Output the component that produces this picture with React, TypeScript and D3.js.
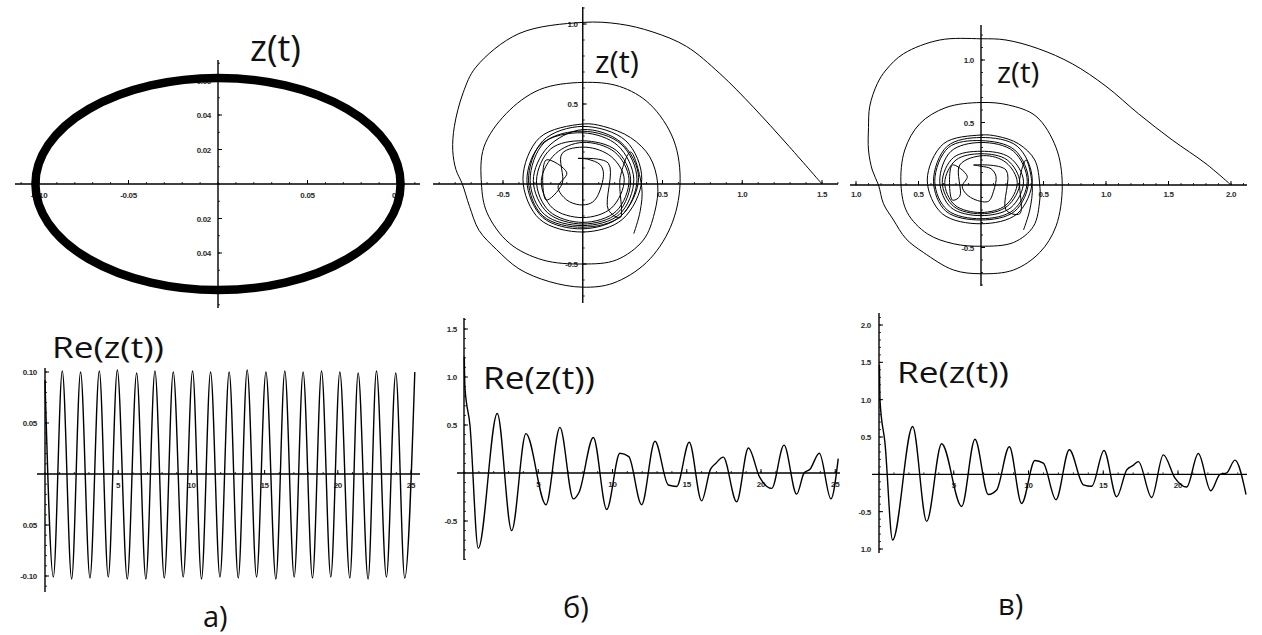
import * as d3 from "d3";

type Pt = [number, number];

// ---------- top row: z(t) phase portraits ----------
const ellipseRx = 0.102;
const ellipseRy = 0.0615;

const spiralB: Pt[] = [
  [1.5, 0], [1.28, 0.25], [1.07, 0.48], [0.86, 0.69], [0.65, 0.86], [0.44, 0.95], [0.23, 1.0], [0, 1.01],
  [-0.4, 0.94], [-0.67, 0.73], [-0.75, 0.57], [-0.805, 0.36], [-0.815, 0.21], [-0.795, 0.09], [-0.755, 0],
  [-0.71, -0.14], [-0.65, -0.29], [-0.54, -0.41], [-0.4, -0.53], [-0.21, -0.61], [0, -0.645], [0.19, -0.62],
  [0.4, -0.49], [0.55, -0.27], [0.61, 0], [0.57, 0.275],
  [0.42, 0.5], [0.23, 0.61], [0, 0.635], [-0.27, 0.59], [-0.48, 0.44], [-0.62, 0.23], [-0.635, 0],
  [-0.6, -0.18], [-0.46, -0.37], [-0.25, -0.475], [0, -0.5], [0.21, -0.475], [0.38, -0.35], [0.45, -0.18],
  [0.47, 0], [0.42, 0.17], [0.3, 0.29], [0.13, 0.36], [0, 0.375],
  [-0.27, 0.29], [-0.375, 0.03], [-0.27, -0.22], [0, -0.3], [0.25, -0.22], [0.37, 0.03], [0.27, 0.27], [0, 0.36],
  [-0.25, 0.27], [-0.34, 0.02], [-0.25, -0.2], [0, -0.27], [0.24, -0.2], [0.34, 0.03], [0.24, 0.25], [0, 0.33],
  [-0.24, 0.26], [-0.33, 0.02], [-0.24, -0.19], [0, -0.26], [0.23, -0.19], [0.32, 0.03], [0.22, 0.24], [0, 0.32],
  [-0.26, 0.25], [-0.35, 0.02], [-0.25, -0.21], [0, -0.28], [0.24, -0.2], [0.35, 0.04], [0.24, 0.26], [0, 0.34],
  [-0.22, 0.23], [-0.31, 0.02], [-0.22, -0.18], [0, -0.25], [0.22, -0.18], [0.3, 0.03], [0.21, 0.21], [0, 0.27],
  [-0.2, 0.22], [-0.29, 0.02], [-0.21, -0.17], [0, -0.24], [0.21, -0.17], [0.29, 0.03], [0.2, 0.2], [0, 0.26],
  [-0.17, 0.19], [-0.26, 0.02], [-0.19, -0.15], [0, -0.21], [0.18, -0.15], [0.26, 0.03], [0.18, 0.17], [0.02, 0.23],
  [-0.13, 0.19], [-0.13, 0.0], [-0.23, -0.1], [-0.23, 0.15], [-0.1, 0.07], [-0.155, -0.02], [-0.1, -0.1],
  [-0.02, -0.13], [0.05, -0.12], [0.09, -0.08], [0.13, 0.06], [0.11, 0.12], [0.03, 0.155], [-0.03, 0.16],
  [0.16, 0.13], [0.16, -0.16], [0.235, -0.21], [0.235, 0.04], [0.3, 0.2], [0.37, -0.02], [0.36, -0.17], [0.32, -0.31],
];

const spiralC: Pt[] = [
  [2.0, 0], [1.8, 0.17], [1.53, 0.36], [1.26, 0.57], [1.0, 0.79], [0.73, 0.97], [0.46, 1.09], [0.2, 1.16], [0, 1.17],
  [-0.33, 1.16], [-0.62, 1.05], [-0.76, 0.92], [-0.83, 0.81], [-0.89, 0.63], [-0.9, 0.46], [-0.9, 0.28],
  [-0.87, 0.12], [-0.82, 0], [-0.78, -0.15], [-0.7, -0.28], [-0.6, -0.43],
  [-0.46, -0.54], [-0.22, -0.68], [0, -0.71], [0.26, -0.68], [0.47, -0.54], [0.6, -0.33], [0.65, 0],
  [0.6, 0.3], [0.44, 0.55], [0.22, 0.64], [0, 0.66], [-0.28, 0.62], [-0.49, 0.49], [-0.61, 0.28], [-0.64, 0],
  [-0.59, -0.22], [-0.43, -0.39], [-0.22, -0.47], [0, -0.49], [0.26, -0.46], [0.42, -0.33], [0.47, -0.12],
  [0.47, 0], [0.43, 0.2], [0.3, 0.33], [0.13, 0.39], [0, 0.4],
  [-0.3, 0.33], [-0.43, 0.04], [-0.31, -0.23], [0, -0.31], [0.29, -0.23], [0.41, 0.04], [0.29, 0.31], [0, 0.38],
  [-0.27, 0.31], [-0.38, 0.03], [-0.28, -0.21], [0, -0.28], [0.27, -0.21], [0.38, 0.03], [0.27, 0.28], [0, 0.355],
  [-0.26, 0.3], [-0.37, 0.03], [-0.27, -0.2], [0, -0.27], [0.26, -0.2], [0.37, 0.03], [0.26, 0.27], [0, 0.34],
  [-0.24, 0.27], [-0.33, 0.03], [-0.24, -0.18], [0, -0.245], [0.24, -0.18], [0.34, 0.03], [0.23, 0.22], [0, 0.27],
  [-0.22, 0.22], [-0.31, 0.02], [-0.22, -0.17], [0, -0.23], [0.21, -0.17], [0.31, 0.02], [0.21, 0.2], [0, 0.25],
  [-0.2, 0.2], [-0.29, 0.02], [-0.21, -0.16], [0, -0.22], [0.2, -0.16], [0.29, 0.02], [0.2, 0.18], [0.02, 0.235],
  [-0.17, 0.16], [-0.17, -0.09], [-0.23, -0.12], [-0.23, 0.16], [-0.11, 0.07], [-0.15, -0.01], [-0.12, -0.07],
  [-0.04, -0.12], [0.06, -0.13], [0.1, -0.05], [0.12, 0.07], [0.08, 0.13], [0.0, 0.15], [-0.06, 0.16],
  [0.2, 0.12], [0.2, -0.2], [0.31, -0.23], [0.31, 0.05], [0.36, 0.2], [0.41, -0.01], [0.39, -0.2], [0.34, -0.36],
];

// ---------- bottom row: Re(z(t)) time series (extrema) ----------
const seriesA: Pt[] = [
  [0, 0.092], [0.57, -0.101], [1.18, 0.101], [1.82, -0.103], [2.43, 0.1], [3.07, -0.102], [3.71, 0.101],
  [4.32, -0.101], [4.94, 0.102], [5.62, -0.103], [6.26, 0.099], [6.89, -0.103], [7.51, 0.101], [8.15, -0.102],
  [8.76, 0.1], [9.44, -0.101], [10.08, 0.101], [10.69, -0.103], [11.31, 0.1], [11.95, -0.101], [12.58, 0.1],
  [13.2, -0.102], [13.81, 0.102], [14.45, -0.101], [15.09, 0.1], [15.77, -0.103], [16.38, 0.101],
  [17.02, -0.101], [17.63, 0.1], [18.27, -0.102], [18.89, 0.101], [19.52, -0.101], [20.14, 0.1],
  [20.82, -0.102], [21.39, 0.099], [22.07, -0.103], [22.64, 0.101], [23.32, -0.101], [23.96, 0.099],
  [24.57, -0.102], [25.26, 0.1],
];

const seriesB: Pt[] = [
  [0.02, 1.21], [0.06, 0.9], [0.4, 0.5], [0.96, -0.785], [2.24, 0.62], [3.21, -0.6], [4.17, 0.41],
  [5.52, -0.33], [6.46, 0.475], [7.36, -0.27], [7.75, -0.2], [8.71, 0.37], [9.61, -0.38], [10.5, 0.205],
  [11.1, 0.17], [11.96, -0.33], [12.86, 0.33], [13.76, -0.125], [14.32, -0.14], [15.17, 0.32], [16.0, -0.29],
  [16.6, 0.04], [16.95, 0.1], [17.46, 0.165], [18.36, -0.3], [19.15, 0.26], [19.9, -0.04], [20.72, -0.16],
  [21.55, 0.29], [22.4, -0.22], [22.9, 0.0], [23.3, 0.04], [23.93, 0.205], [24.71, -0.27], [25.2, 0.15],
];

const seriesC: Pt[] = [
  [0.03, 1.47], [0.07, 0.98], [0.4, 0.42], [0.91, -0.88], [2.25, 0.64], [3.19, -0.63], [4.19, 0.41],
  [5.53, -0.43], [6.42, 0.47], [7.31, -0.27], [7.87, -0.21], [8.72, 0.37], [9.54, -0.39], [10.43, 0.185],
  [10.99, 0.15], [11.84, -0.34], [12.73, 0.33], [13.67, -0.14], [14.23, -0.16], [15.05, 0.32], [15.9, -0.3],
  [16.57, 0.06], [17.0, 0.12], [17.35, 0.17], [18.24, -0.31], [19.02, 0.26], [19.8, -0.05], [20.58, -0.17],
  [21.36, 0.28], [22.19, -0.22], [22.81, 0.0], [23.26, 0.02], [23.81, 0.19], [24.55, -0.27],
];

// ---------- tick values and labels ----------
const ellXTicks = [-0.1, -0.05, 0.05, 0.1];
const ellXLabels = ["-0.10", "-0.05", "0.05", "0.1"];
const ellYTicks = [0.06, 0.04, 0.02, -0.02, -0.04, -0.06];
const ellYLabels = ["0.06", "0.04", "0.02", "0.02", "0.04", "0.06"];

const spBXTicks = [-0.5, 0.5, 1.0, 1.5];
const spBXLabels = ["-0.5", "0.5", "1.0", "1.5"];
const spBYTicks = [1.0, 0.5, -0.5];
const spBYLabels = ["1.0", "0.5", "-0.5"];

const spCXTicks = [-1.0, -0.5, 0.5, 1.0, 1.5, 2.0];
const spCXLabels = ["1.0", "0.5", "0.5", "1.0", "1.5", "2.0"];
const spCYTicks = [1.0, 0.5, -0.5];
const spCYLabels = ["1.0", "0.5", "-0.5"];

const timeTicks = [5, 10, 15, 20, 25];
const timeLabels = ["5", "10", "15", "20", "25"];
const reAYTicks = [0.1, 0.05, -0.05, -0.1];
const reAYLabels = ["0.10", "0.05", "0.05", "-0.10"];
const reBYTicks = [1.5, 1.0, 0.5, -0.5];
const reBYLabels = ["1.5", "1.0", "0.5", "-0.5"];
const reCYTicks = [2.0, 1.5, 1.0, 0.5, -0.5, -1.0];
const reCYLabels = ["2.0", "1.5", "1.0", "0.5", "-0.5", "1.0"];

const tickFont = "'Liberation Sans', Arial, sans-serif";
const titleFont = "'Open Sans', 'Noto Sans', sans-serif";

type Lin = d3.ScaleLinear<number, number>;

function Axes(props: {
  x: Lin; y: Lin; hx: [number, number]; vy: [number, number];
  xTicks: number[]; xLabels: string[]; yTicks: number[]; yLabels: string[];
  xMinor: number; yMinor: number; xDy: number; yDx: number; part: "labels" | "lines";
}) {
  const { x, y, hx, vy, xTicks, xLabels, yTicks, yLabels, xMinor, yMinor, xDy, yDx, part } = props;
  const x0 = x(0);
  const y0 = y(0);
  if (part === "labels") {
    return (
      <g fontFamily={tickFont} fontSize={8} fontWeight="bold" fill="#2b2b2b" letterSpacing={-0.3}>
        {xTicks.map((t, i) => (
          <text key={"x" + i} x={x(t)} y={y0 + xDy} textAnchor="middle">{xLabels[i]}</text>
        ))}
        {yTicks.map((t, i) => (
          <text key={"y" + i} x={x0 - yDx} y={y(t) + 3} textAnchor="end">{yLabels[i]}</text>
        ))}
      </g>
    );
  }
  const xa = x.invert(hx[0]);
  const xb = x.invert(hx[1]);
  const ya = y.invert(vy[1]);
  const yb = y.invert(vy[0]);
  const xm = d3.range(Math.ceil(xa / xMinor) * xMinor, xb, xMinor);
  const ym = d3.range(Math.ceil(ya / yMinor) * yMinor, yb, yMinor);
  return (
    <g stroke="#000" fill="none">
      <line x1={hx[0]} x2={hx[1]} y1={y0} y2={y0} strokeWidth={1.4} />
      <line x1={x0} x2={x0} y1={vy[0]} y2={vy[1]} strokeWidth={1.4} />
      {xm.map((t, i) => (
        <line key={"xm" + i} x1={x(t)} x2={x(t)} y1={y0} y2={y0 - 2} strokeWidth={0.8} />
      ))}
      {ym.map((t, i) => (
        <line key={"ym" + i} x1={x0} x2={x0 + 2} y1={y(t)} y2={y(t)} strokeWidth={0.8} />
      ))}
      {xTicks.map((t, i) => (
        <line key={"xt" + i} x1={x(t)} x2={x(t)} y1={y0} y2={y0 - 4} strokeWidth={1} />
      ))}
      {yTicks.map((t, i) => (
        <line key={"yt" + i} x1={x0} x2={x0 + 4} y1={y(t)} y2={y(t)} strokeWidth={1} />
      ))}
    </g>
  );
}

export default function App() {
  const W = 1262;
  const H = 635;

  // scales
  const eX = d3.scaleLinear().domain([-0.1, 0.1]).range([39, 397]);
  const eY = d3.scaleLinear().domain([-0.06, 0.06]).range([287.5, 80.5]);
  const bX = d3.scaleLinear().domain([-0.5, 1.5]).range([503, 822]);
  const bY = d3.scaleLinear().domain([-0.5, 1.0]).range([264, 24]);
  const cX = d3.scaleLinear().domain([-1, 2]).range([856, 1231]);
  const cY = d3.scaleLinear().domain([-0.5, 1.0]).range([247.5, 60]);

  const aTX = d3.scaleLinear().domain([0, 25]).range([45, 411]);
  const aTY = d3.scaleLinear().domain([-0.1, 0.1]).range([576, 372]);
  const bTX = d3.scaleLinear().domain([0, 25]).range([464, 835.25]);
  const bTY = d3.scaleLinear().domain([-0.5, 1.5]).range([521, 329]);
  const cTX = d3.scaleLinear().domain([0, 25]).range([879, 1252.75]);
  const cTY = d3.scaleLinear().domain([-1, 2]).range([549, 325]);

  const spiral = (x: Lin, y: Lin) =>
    d3.line<Pt>().x((d) => x(d[0])).y((d) => y(d[1])).curve(d3.curveCatmullRom.alpha(0.5));
  const wave = (x: Lin, y: Lin) =>
    d3.line<Pt>().x((d) => x(d[0])).y((d) => y(d[1])).curve(d3.curveMonotoneX);

  const panels = [
    { x: eX, y: eY, hx: [15, 420], vy: [60, 308], xT: ellXTicks, xL: ellXLabels, yT: ellYTicks, yL: ellYLabels, xm: 0.01, ym: 0.01, xDy: 14, yDx: 7 },
    { x: bX, y: bY, hx: [433, 838], vy: [7, 303], xT: spBXTicks, xL: spBXLabels, yT: spBYTicks, yL: spBYLabels, xm: 0.1, ym: 0.1, xDy: 13, yDx: 5 },
    { x: cX, y: cY, hx: [850, 1247], vy: [25, 286], xT: spCXTicks, xL: spCXLabels, yT: spCYTicks, yL: spCYLabels, xm: 0.1, ym: 0.1, xDy: 12, yDx: 7 },
    { x: aTX, y: aTY, hx: [37, 420], vy: [368, 592], xT: timeTicks, xL: timeLabels, yT: reAYTicks, yL: reAYLabels, xm: 1, ym: 0.01, xDy: 14, yDx: 8 },
    { x: bTX, y: bTY, hx: [457, 840], vy: [318, 560], xT: timeTicks, xL: timeLabels, yT: reBYTicks, yL: reBYLabels, xm: 1, ym: 0.1, xDy: 14, yDx: 7 },
    { x: cTX, y: cTY, hx: [872, 1247], vy: [313, 553], xT: timeTicks.slice(0, 4), xL: timeLabels.slice(0, 4), yT: reCYTicks, yL: reCYLabels, xm: 1, ym: 0.1, xDy: 14, yDx: 8 },
  ];

  const axes = (part: "labels" | "lines") =>
    panels.map((p, i) => (
      <Axes key={part + i} x={p.x} y={p.y} hx={p.hx as [number, number]} vy={p.vy as [number, number]}
        xTicks={p.xT} xLabels={p.xL} yTicks={p.yT} yLabels={p.yL}
        xMinor={p.xm} yMinor={p.ym} xDy={p.xDy} yDx={p.yDx} part={part} />
    ));

  return (
    <svg width={W} height={H} style={{ position: "absolute", left: 0, top: 0, background: "#fff" }}>
      <rect width={W} height={H} fill="#fff" />
      {axes("labels")}

      {/* z(t) curves */}
      <ellipse cx={eX(0)} cy={eY(0)} rx={eX(ellipseRx) - eX(0)} ry={eY(0) - eY(ellipseRy)}
        fill="none" stroke="#000" strokeWidth={8.5} />
      <path d={spiral(bX, bY)(spiralB) ?? ""} fill="none" stroke="#000" strokeWidth={1} />
      <path d={spiral(cX, cY)(spiralC) ?? ""} fill="none" stroke="#000" strokeWidth={1} />

      {/* Re(z(t)) curves */}
      <path d={wave(aTX, aTY)(seriesA) ?? ""} fill="none" stroke="#000" strokeWidth={1.4} />
      <path d={wave(bTX, bTY)(seriesB) ?? ""} fill="none" stroke="#000" strokeWidth={1.4} />
      <path d={wave(cTX, cTY)(seriesC) ?? ""} fill="none" stroke="#000" strokeWidth={1.4} />

      {axes("lines")}

      <g fontFamily={titleFont} fill="#111">
        <text x={250} y={61} fontSize={36}>z(t)</text>
        <text x={595} y={73} fontSize={31}>z(t)</text>
        <text x={997} y={83} fontSize={30}>z(t)</text>
        <text x={52} y={358} fontSize={30} textLength={112} lengthAdjust="spacingAndGlyphs">Re(z(t))</text>
        <text x={483} y={389} fontSize={31} textLength={112} lengthAdjust="spacingAndGlyphs">Re(z(t))</text>
        <text x={897} y={383} fontSize={30} textLength={112} lengthAdjust="spacingAndGlyphs">Re(z(t))</text>
        <text x={203} y={627} fontSize={29}>а)</text>
        <text x={563} y={618} fontSize={29}>б)</text>
        <text x={998} y={615} fontSize={29}>в)</text>
      </g>
    </svg>
  );
}
